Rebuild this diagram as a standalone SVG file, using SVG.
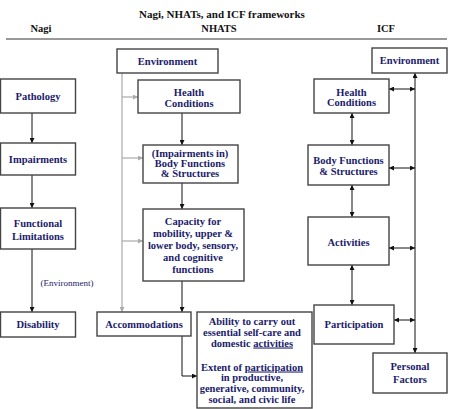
<svg xmlns="http://www.w3.org/2000/svg" width="449" height="409" viewBox="0 0 449 409">
<style>
  .box { fill: #ffffff; stroke: #444444; stroke-width: 1.4; }
  text { font-family: 'Liberation Serif', 'DejaVu Serif', 'Times New Roman', serif; }
  .t { font-weight: bold; font-size: 10.5px; fill: #1b1b6b; text-anchor: middle; }
  .h { font-weight: bold; font-size: 10.5px; fill: #111111; text-anchor: middle; }
  .env { font-size: 9px; fill: #1b1b6b; text-anchor: middle; }
  .blk { stroke: #111111; stroke-width: 1; fill: none; }
  .gry { stroke: #aaaaaa; stroke-width: 1.2; fill: none; }
</style>
<defs>
  <marker id="ab" viewBox="0 0 10 10" refX="10" refY="5" markerWidth="5" markerHeight="5" markerUnits="userSpaceOnUse" orient="auto-start-reverse">
    <path d="M0,0 L10,5 L0,10 z" fill="#111111"/>
  </marker>
  <marker id="ag" viewBox="0 0 10 10" refX="10" refY="5" markerWidth="5" markerHeight="5" markerUnits="userSpaceOnUse" orient="auto-start-reverse">
    <path d="M0,0 L10,5 L0,10 z" fill="#aaaaaa"/>
  </marker>
</defs>
<rect width="449" height="409" fill="#ffffff"/>

<g id="header">
  <text class="h" x="222" y="18" style="font-size:11px">Nagi, NHATs, and ICF frameworks</text>
  <text class="h" x="41" y="32">Nagi</text>
  <text class="h" x="219" y="32">NHATS</text>
  <text class="h" x="386" y="32">ICF</text>
  <line x1="6" y1="39" x2="447" y2="39" stroke="#999999" stroke-width="2"/>
</g>

<g id="connectors">
  <line class="blk" x1="32" y1="113" x2="32" y2="143" marker-end="url(#ab)"/>
  <line class="blk" x1="32" y1="175" x2="32" y2="208" marker-end="url(#ab)"/>
  <line class="blk" x1="32" y1="249" x2="32" y2="312" marker-end="url(#ab)"/>
  <line class="gry" x1="122" y1="73" x2="122" y2="312" marker-end="url(#ag)"/>
  <line class="gry" x1="122" y1="97" x2="138" y2="97" marker-end="url(#ag)"/>
  <line class="gry" x1="122" y1="158" x2="143" y2="158" marker-end="url(#ag)"/>
  <line class="gry" x1="122" y1="241" x2="143" y2="241" marker-end="url(#ag)"/>
  <line class="blk" x1="182" y1="113" x2="182" y2="145" marker-end="url(#ab)"/>
  <line class="blk" x1="182" y1="183" x2="182" y2="209" marker-end="url(#ab)"/>
  <line class="blk" x1="182" y1="281" x2="182" y2="312" marker-end="url(#ab)"/>
  <polyline class="blk" points="182,336 182,376 197,376" marker-end="url(#ab)"/>
  <line class="blk" x1="415" y1="73" x2="415" y2="353" marker-start="url(#ab)" marker-end="url(#ab)"/>
  <line class="blk" x1="389" y1="89" x2="415" y2="89" marker-start="url(#ab)" marker-end="url(#ab)"/>
  <line class="blk" x1="389" y1="168" x2="415" y2="168" marker-start="url(#ab)" marker-end="url(#ab)"/>
  <line class="blk" x1="389" y1="248" x2="415" y2="248" marker-start="url(#ab)" marker-end="url(#ab)"/>
  <line class="blk" x1="394" y1="320" x2="415" y2="320" marker-start="url(#ab)" marker-end="url(#ab)"/>
  <line class="blk" x1="352" y1="113" x2="352" y2="145" marker-start="url(#ab)" marker-end="url(#ab)"/>
  <line class="blk" x1="352" y1="185" x2="352" y2="217" marker-start="url(#ab)" marker-end="url(#ab)"/>
  <line class="blk" x1="352" y1="265" x2="352" y2="305" marker-start="url(#ab)" marker-end="url(#ab)"/>
</g>

<g id="nagi-pathology">
  <rect class="box" x="0.5" y="79" width="75" height="34"/>
  <text class="t" x="38" y="100">Pathology</text>
</g>
<g id="nagi-impairments">
  <rect class="box" x="0.5" y="143" width="75" height="32"/>
  <text class="t" x="38" y="163">Impairments</text>
</g>
<g id="nagi-functional">
  <rect class="box" x="0.5" y="208" width="75" height="41"/>
  <text class="t" x="38" y="227">Functional</text>
  <text class="t" x="38" y="240">Limitations</text>
</g>
<text class="env" x="67" y="286">(Environment)</text>
<g id="nagi-disability">
  <rect class="box" x="0.5" y="312" width="75" height="25"/>
  <text class="t" x="38" y="328">Disability</text>
</g>

<g id="nhats-environment">
  <rect class="box" x="117" y="49" width="101" height="24"/>
  <text class="t" x="167.5" y="64.5">Environment</text>
</g>
<g id="nhats-health">
  <rect class="box" x="138" y="80" width="102" height="33"/>
  <text class="t" x="189" y="95.5">Health</text>
  <text class="t" x="189" y="107">Conditions</text>
</g>
<g id="nhats-body">
  <rect class="box" x="143" y="145" width="95" height="38"/>
  <text class="t" x="190" y="156.5">(Impairments in)</text>
  <text class="t" x="190" y="166.5">Body Functions</text>
  <text class="t" x="190" y="176.5">&amp; Structures</text>
</g>
<g id="nhats-capacity">
  <rect class="box" x="143" y="209" width="101" height="72"/>
  <text class="t" x="193" y="224.5">Capacity for</text>
  <text class="t" x="193" y="236.5">mobility, upper &amp;</text>
  <text class="t" x="193" y="248.5">lower body, sensory,</text>
  <text class="t" x="193" y="260.5">and cognitive</text>
  <text class="t" x="193" y="272.5">functions</text>
</g>
<g id="nhats-accommodations">
  <rect class="box" x="97" y="312" width="94" height="24"/>
  <text class="t" x="144" y="328">Accommodations</text>
</g>
<g id="nhats-outcomes">
  <rect class="box" x="197" y="312" width="115" height="96"/>
  <text class="t" x="252" y="324.5">Ability to carry out</text>
  <text class="t" x="252" y="335.5">essential self-care and</text>
  <text class="t" x="252" y="346.5">domestic <tspan text-decoration="underline">activities</tspan></text>
  <text class="t" x="252" y="370.5">Extent of <tspan text-decoration="underline">participation</tspan></text>
  <text class="t" x="252" y="380.5">in productive,</text>
  <text class="t" x="252" y="391.5">generative, community,</text>
  <text class="t" x="252" y="402.5">social, and civic life</text>
</g>

<g id="icf-environment">
  <rect class="box" x="372" y="48" width="75" height="25"/>
  <text class="t" x="409.5" y="64">Environment</text>
</g>
<g id="icf-health">
  <rect class="box" x="314" y="79" width="75" height="34"/>
  <text class="t" x="351.5" y="95.5">Health</text>
  <text class="t" x="351.5" y="106">Conditions</text>
</g>
<g id="icf-body">
  <rect class="box" x="308" y="145" width="81" height="40"/>
  <text class="t" x="348.5" y="163.5">Body Functions</text>
  <text class="t" x="348.5" y="174.5">&amp; Structures</text>
</g>
<g id="icf-activities">
  <rect class="box" x="308" y="217" width="81" height="48"/>
  <text class="t" x="348.5" y="245.5">Activities</text>
</g>
<g id="icf-participation">
  <rect class="box" x="314" y="305" width="80" height="39"/>
  <text class="t" x="354" y="327.5">Participation</text>
</g>
<g id="icf-personal">
  <rect class="box" x="373" y="353" width="74" height="40"/>
  <text class="t" x="410" y="369.5">Personal</text>
  <text class="t" x="410" y="382.5">Factors</text>
</g>
</svg>
